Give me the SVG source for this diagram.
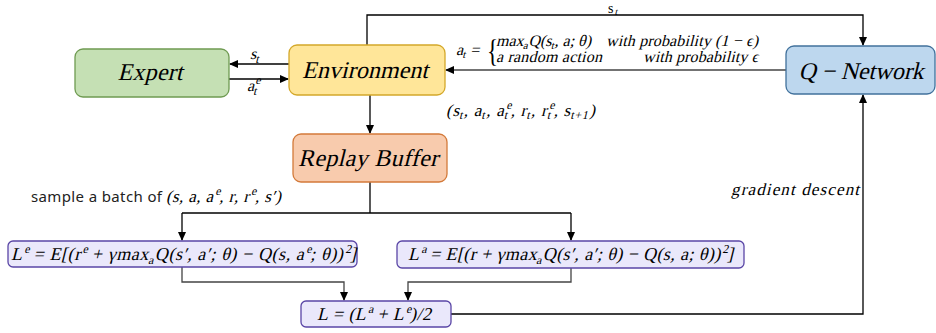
<svg xmlns="http://www.w3.org/2000/svg" width="936" height="333" viewBox="0 0 936 333">
<style>
.m{font-family:"Liberation Serif","Times New Roman",serif;font-style:normal;fill:#000}
.node{font-size:24px}
.eq{font-size:18px}
.lbl{font-size:16px}
.sans{font-family:"Noto Sans","Liberation Sans",sans-serif;font-size:15px;fill:#222}
.c{fill:none;stroke:#000;stroke-width:1.3}
.g{stroke:#444}
</style>
<defs>
<marker id="ah" markerWidth="10" markerHeight="8" refX="8" refY="4" orient="auto" markerUnits="userSpaceOnUse">
<path d="M0,0 L9,4 L0,8 Z" fill="#000"/>
</marker>
</defs>
<rect width="936" height="333" fill="#fff"/>

<g id="connectors">
<path class="c" d="M367,45 V15 H863 V45" marker-end="url(#ah)"/>
<path class="c g" d="M786,70 H446" marker-end="url(#ah)"/>
<path class="c" d="M289,64 H230" marker-end="url(#ah)"/>
<path class="c" d="M229,79 H288" marker-end="url(#ah)"/>
<path class="c" d="M370,95 V133" marker-end="url(#ah)"/>
<path class="c" d="M370,182 V213"/>
<path class="c" d="M182,213 H571"/>
<path class="c" d="M182,213 V240" marker-end="url(#ah)"/>
<path class="c" d="M571,213 V240" marker-end="url(#ah)"/>
<path class="c g" d="M182,267 V282 H344 V300" marker-end="url(#ah)"/>
<path class="c g" d="M571,268 V282 H408 V300" marker-end="url(#ah)"/>
<path class="c" d="M451,314 H863 V95" marker-end="url(#ah)"/>

<text class="m" font-size="14" x="608" y="12.5">s</text>
<text class="m" font-size="10" transform="translate(614.5,15) skewX(-14)">t</text>
<text class="m lbl" font-size="17" transform="translate(250,59) skewX(-14)"><tspan x="0" y="0">s</tspan><tspan font-size="12" dy="4">t</tspan></text>
<text class="m lbl" font-size="17" transform="translate(247,91) skewX(-14)"><tspan x="0" y="0">a</tspan><tspan font-size="12" dy="4">t</tspan><tspan font-size="12" dx="-4" dy="-11">e</tspan></text>

<text class="m lbl" transform="translate(456,55) skewX(-14)"><tspan x="0" y="0">a</tspan><tspan font-size="11" dy="3">t</tspan><tspan dy="-3"> =</tspan></text>
<text class="m" x="487" y="62" font-size="31" transform="translate(487,62) scale(0.75,1) translate(-487,-62)">{</text>
<text class="m lbl" transform="translate(496,46) skewX(-14)"><tspan x="0" y="0">max</tspan><tspan font-size="11" dy="3">a</tspan><tspan dy="-3">Q(s</tspan><tspan font-size="11" dy="3">t</tspan><tspan dy="-3">, a; θ)</tspan></text>
<text class="m lbl" transform="translate(758,46) skewX(-14)" text-anchor="end" textLength="152">with probability (1 − ϵ)</text>
<text class="m lbl" transform="translate(496,62) skewX(-14)" textLength="106">a random action</text>
<text class="m lbl" transform="translate(758,62) skewX(-14)" text-anchor="end" textLength="115">with probability ϵ</text>

<text class="m" font-size="17" textLength="149" transform="translate(446,116) skewX(-14)"><tspan x="0" y="0">(s</tspan><tspan font-size="12" dy="3">t</tspan><tspan dy="-3">, a</tspan><tspan font-size="12" dy="3">t</tspan><tspan dy="-3">, a</tspan><tspan font-size="12" dy="3">t</tspan><tspan font-size="12" dx="-4" dy="-10">e</tspan><tspan dy="7">, r</tspan><tspan font-size="12" dy="3">t</tspan><tspan dy="-3">, r</tspan><tspan font-size="12" dy="3">t</tspan><tspan font-size="12" dx="-4" dy="-10">e</tspan><tspan dy="7">, s</tspan><tspan font-size="12" dy="3">t+1</tspan><tspan dy="-3">)</tspan></text>

<text class="sans" x="31" y="202" textLength="131">sample a batch of</text>
<text class="m" font-size="17" textLength="115" transform="translate(166,202) skewX(-14)"><tspan x="0" y="0">(s, a, a</tspan><tspan font-size="12" dy="-7">e</tspan><tspan dy="7">, r, r</tspan><tspan font-size="12" dy="-7">e</tspan><tspan dy="7">, s′)</tspan></text>

<text class="m" font-size="17" transform="translate(859,195) skewX(-14)" text-anchor="end" textLength="128">gradient descent</text>
</g>

<g id="expert">
<rect x="75" y="49" width="154" height="48" rx="8" fill="#c5e0b4" stroke="#6f9b52" stroke-width="1.3"/>
<text class="m node" transform="translate(150,80) skewX(-14)" text-anchor="middle" textLength="65">Expert</text>
</g>
<g id="environment">
<rect x="289" y="45" width="156" height="50" rx="8" fill="#ffe699" stroke="#d4a82a" stroke-width="1.3"/>
<text class="m node" transform="translate(365,78) skewX(-14)" text-anchor="middle" textLength="126">Environment</text>
</g>
<g id="q-network">
<rect x="786" y="46" width="149" height="48" rx="8" fill="#bdd7ee" stroke="#41719c" stroke-width="1.3"/>
<text class="m node" transform="translate(861,79) skewX(-14)" text-anchor="middle" textLength="125">Q − Network</text>
</g>
<g id="replay-buffer">
<rect x="293" y="134" width="154" height="48" rx="8" fill="#f8cbad" stroke="#d37a3a" stroke-width="1.3"/>
<text class="m node" transform="translate(368,166) skewX(-14)" text-anchor="middle" textLength="140">Replay Buffer</text>
</g>
<g id="loss-e">
<rect x="8" y="241" width="349" height="26" rx="5" fill="#eae8fb" stroke="#5a46a6" stroke-width="1.3"/>
<text class="m eq" textLength="345" transform="translate(11,260) skewX(-14)"><tspan x="0" y="0">L</tspan><tspan font-size="12" dy="-7">e</tspan><tspan dy="7"> = E[(r</tspan><tspan font-size="12" dy="-7">e</tspan><tspan dy="7"> + γmax</tspan><tspan font-size="12" dy="4">a</tspan><tspan dy="-4">Q(s′, a′; θ) − Q(s, a</tspan><tspan font-size="12" dy="-7">e</tspan><tspan dy="7">; θ))</tspan><tspan font-size="12" dy="-7">2</tspan><tspan dy="7">]</tspan></text>
</g>
<g id="loss-a">
<rect x="397" y="241" width="347" height="27" rx="5" fill="#eae8fb" stroke="#5a46a6" stroke-width="1.3"/>
<text class="m eq" textLength="325" transform="translate(408,260) skewX(-14)"><tspan x="0" y="0">L</tspan><tspan font-size="12" dy="-7">a</tspan><tspan dy="7"> = E[(r + γmax</tspan><tspan font-size="12" dy="4">a</tspan><tspan dy="-4">Q(s′, a′; θ) − Q(s, a; θ))</tspan><tspan font-size="12" dy="-7">2</tspan><tspan dy="7">]</tspan></text>
</g>
<g id="loss">
<rect x="301" y="301" width="150" height="26" rx="5" fill="#eae8fb" stroke="#5a46a6" stroke-width="1.3"/>
<text class="m eq" textLength="114" transform="translate(317,320) skewX(-14)"><tspan x="0" y="0">L = (L</tspan><tspan font-size="12" dy="-7">a</tspan><tspan dy="7"> + L</tspan><tspan font-size="12" dy="-7">e</tspan><tspan dy="7">)/2</tspan></text>
</g>
</svg>
